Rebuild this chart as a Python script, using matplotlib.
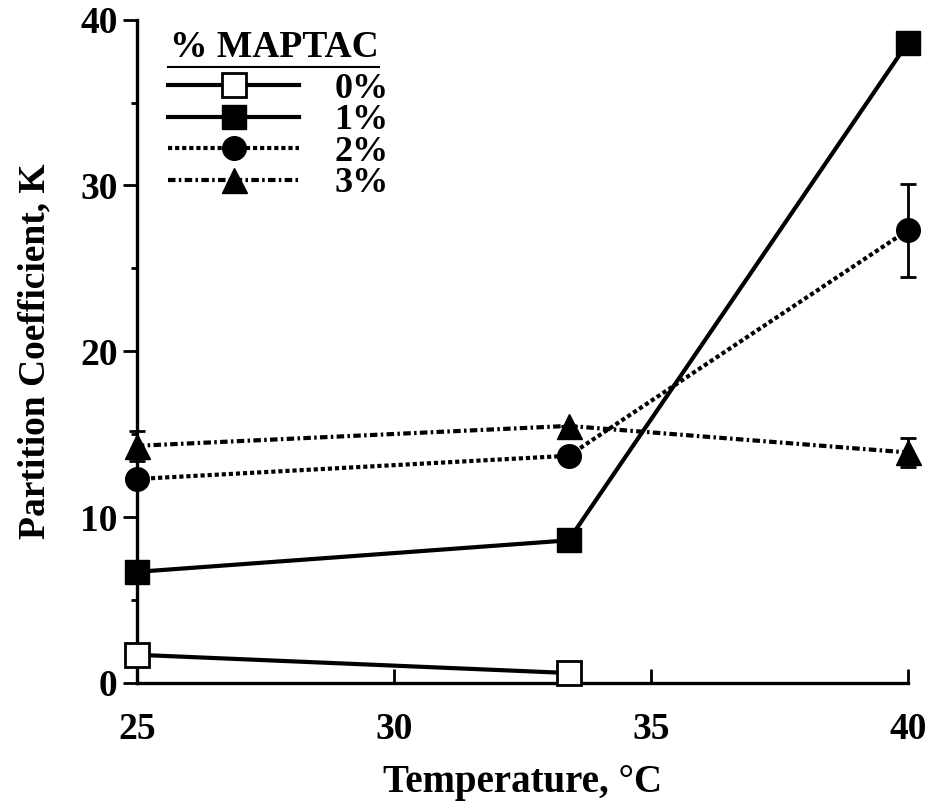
import matplotlib
matplotlib.use("Agg")
import matplotlib.pyplot as plt
from matplotlib.ticker import MultipleLocator
from matplotlib.lines import Line2D

plt.rcParams['font.family'] = ['Liberation Serif', 'DejaVu Serif']
plt.rcParams['font.weight'] = 'bold'

# data
temps = [25, 33.4, 40]
k_0 = [1.7, 0.6]
k_1 = [6.7, 8.6, 38.6]
k_2 = [12.3, 13.7, 27.3]
k_2_err = [0, 0, 2.8]
k_3 = [14.3, 15.5, 13.9]
k_3_err = [0.9, 0, 0.9]
labels = ['0%', '1%', '2%', '3%']

fig = plt.figure(figsize=(9.31, 8.05), dpi=100)
ax = fig.add_axes([0.147, 0.1516, 0.828, 0.824])

lw = 3.0
ms = 17
dot = (0, (1.0, 0.7))
dashdot = (0, (1.8, 0.8, 0.6, 0.8))

ax.plot(temps[:2], k_0, color='black', lw=lw, marker='s', ms=ms,
        mfc='white', mec='black', mew=2, clip_on=False, zorder=5)
ax.plot(temps, k_1, color='black', lw=lw, marker='s', ms=ms,
        mfc='black', mec='black', clip_on=False, zorder=5)
ax.errorbar(temps, k_2, yerr=k_2_err, color='black', lw=lw, ls=dot, marker='o',
            ms=ms, mfc='black', mec='black', ecolor='black', elinewidth=2,
            capsize=6, capthick=2, clip_on=False, zorder=5)
ax.errorbar(temps, k_3, yerr=k_3_err, color='black', lw=lw, ls=dashdot, marker='^',
            ms=ms + 1, mfc='black', mec='black', ecolor='black', elinewidth=2,
            capsize=6, capthick=2, clip_on=False, zorder=5)

ax.set_xlim(25, 40)
ax.set_ylim(0, 40)
ax.set_xticks([25, 30, 35, 40])
ax.set_yticks([0, 10, 20, 30, 40])
ax.yaxis.set_minor_locator(MultipleLocator(5))
ax.tick_params(axis='x', direction='in', length=10, width=2, labelsize=27, pad=21)
ax.tick_params(axis='y', which='major', direction='out', length=10, width=2, labelsize=27, pad=4)
ax.tick_params(axis='y', which='minor', direction='out', length=4, width=2)
for s in ['top', 'right']:
    ax.spines[s].set_visible(False)
for s in ['left', 'bottom']:
    ax.spines[s].set_linewidth(2.4)

ax.set_xlabel('Temperature, °C', fontsize=28, fontweight='bold', labelpad=12)
ax.set_ylabel('Partition Coefficient, K', fontsize=27, fontweight='bold', labelpad=20)

handles = [
    Line2D([], [], color='black', lw=lw, marker='s', ms=ms, mfc='white', mec='black', mew=2),
    Line2D([], [], color='black', lw=lw, marker='s', ms=ms, mfc='black'),
    Line2D([], [], color='black', lw=lw, ls=dot, marker='o', ms=ms, mfc='black'),
    Line2D([], [], color='black', lw=lw, ls=dashdot, marker='^', ms=ms + 1, mfc='black'),
]
leg = ax.legend(handles, labels, loc='upper left', bbox_to_anchor=(0.04, 0.92),
                frameon=False, fontsize=26, handlelength=3.65, handletextpad=0.97,
                labelspacing=-0.05, borderpad=0, borderaxespad=0)
for t in leg.get_texts():
    t.set_fontweight('bold')

title = ax.text(0.043, 0.985, '% MAPTAC', transform=ax.transAxes, fontsize=27,
                fontweight='bold', ha='left', va='top')
fig.canvas.draw()
bb = title.get_window_extent().transformed(fig.transFigure.inverted())
fig.add_artist(Line2D([bb.x0 - 0.002, bb.x1], [bb.y0 - 0.003, bb.y0 - 0.003],
                      transform=fig.transFigure, color='black', lw=1.5))

fig.savefig('out.png', dpi=100)
